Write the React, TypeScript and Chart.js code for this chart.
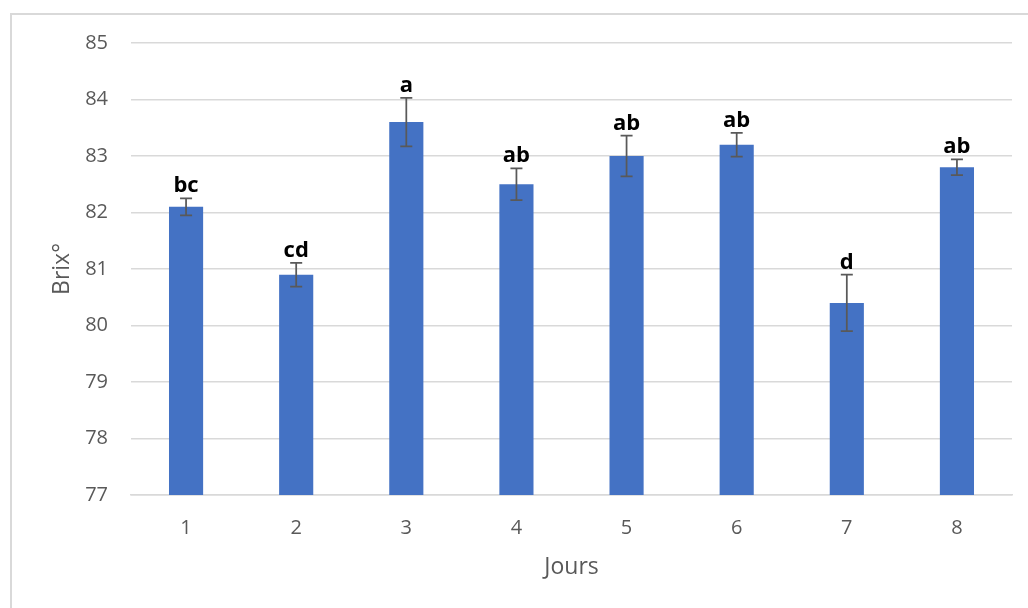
import React, { useEffect, useRef } from "react";
import { Chart, registerables } from "chart.js";

Chart.register(...registerables);

const categories = ["1", "2", "3", "4", "5", "6", "7", "8"];
const brixValues = [82.1, 80.9, 83.6, 82.5, 83.0, 83.2, 80.4, 82.8];
const brixErrors = [0.15, 0.21, 0.43, 0.28, 0.36, 0.21, 0.5, 0.14];
const groupLetters = ["bc", "cd", "a", "ab", "ab", "ab", "d", "ab"];
const yMin = 77;
const yMax = 85;

const FONT = "'Open Sans', 'Noto Sans', sans-serif";

const decorPlugin = {
  id: "decor",
  beforeDraw(chart: any) {
    const ctx = chart.ctx;
    ctx.save();
    ctx.strokeStyle = "#d9d9d9";
    ctx.lineWidth = 2;
    ctx.beginPath();
    ctx.moveTo(11, 608);
    ctx.lineTo(11, 14);
    ctx.lineTo(1028, 14);
    ctx.stroke();
    ctx.restore();
  },
  afterDatasetsDraw(chart: any) {
    const ctx = chart.ctx;
    const yScale = chart.scales.y;
    const meta = chart.getDatasetMeta(0);
    ctx.save();
    meta.data.forEach((bar: any, i: number) => {
      const x = bar.x;
      const v = brixValues[i];
      const e = brixErrors[i];
      const yTop = yScale.getPixelForValue(v + e);
      const yBot = yScale.getPixelForValue(v - e);
      ctx.strokeStyle = "#595959";
      ctx.lineWidth = 1.75;
      ctx.beginPath();
      ctx.moveTo(x, yTop);
      ctx.lineTo(x, yBot);
      ctx.moveTo(x - 6, yTop);
      ctx.lineTo(x + 6, yTop);
      ctx.moveTo(x - 6, yBot);
      ctx.lineTo(x + 6, yBot);
      ctx.stroke();
      ctx.fillStyle = "#000000";
      ctx.font = `bold 22px ${FONT}`;
      ctx.textAlign = "center";
      ctx.textBaseline = "alphabetic";
      ctx.fillText(groupLetters[i], x, yTop - 6);
    });
    ctx.restore();
  },
};

export default function App() {
  const canvasRef = useRef<HTMLCanvasElement | null>(null);

  useEffect(() => {
    if (!canvasRef.current) return;
    const chart = new Chart(canvasRef.current, {
      type: "bar",
      data: {
        labels: categories,
        datasets: [
          {
            label: "Brix°",
            data: brixValues,
            backgroundColor: "#4472C4",
            borderWidth: 0,
            categoryPercentage: 1,
            barPercentage: 0.31,
          },
        ],
      },
      options: {
        responsive: false,
        animation: false,
        layout: { padding: { top: 43, right: 16, left: 0, bottom: 0 } },
        plugins: {
          legend: { display: false },
          tooltip: { enabled: false },
        },
        scales: {
          x: {
            grid: { display: false, drawTicks: false },
            border: { display: true, color: "#d9d9d9", width: 1.5 },
            ticks: {
              color: "#595959",
              font: { family: FONT, size: 20 },
              padding: 21,
            },
            title: {
              display: true,
              text: "Jours",
              color: "#595959",
              font: { family: FONT, size: 23 },
              padding: { top: 0, bottom: 27 },
            },
            afterFit(scale: any) {
              scale.height = 113;
            },
          },
          y: {
            min: yMin,
            max: yMax,
            grid: { color: "#d9d9d9", lineWidth: 1.5, drawTicks: false },
            border: { display: false },
            ticks: {
              stepSize: 1,
              color: "#595959",
              font: { family: FONT, size: 20 },
              padding: 23,
            },
            title: {
              display: true,
              text: "Brix°",
              color: "#595959",
              font: { family: FONT, size: 23 },
              padding: { top: 49, bottom: 0 },
            },
            afterFit(scale: any) {
              scale.width = 131;
            },
          },
        },
      },
      plugins: [decorPlugin],
    });
    return () => chart.destroy();
  }, []);

  return (
    <div style={{ position: "absolute", left: 0, top: 0, width: 1028, height: 608, background: "#ffffff" }}>
      <canvas ref={canvasRef} width={1028} height={608} style={{ display: "block" }} />
    </div>
  );
}
